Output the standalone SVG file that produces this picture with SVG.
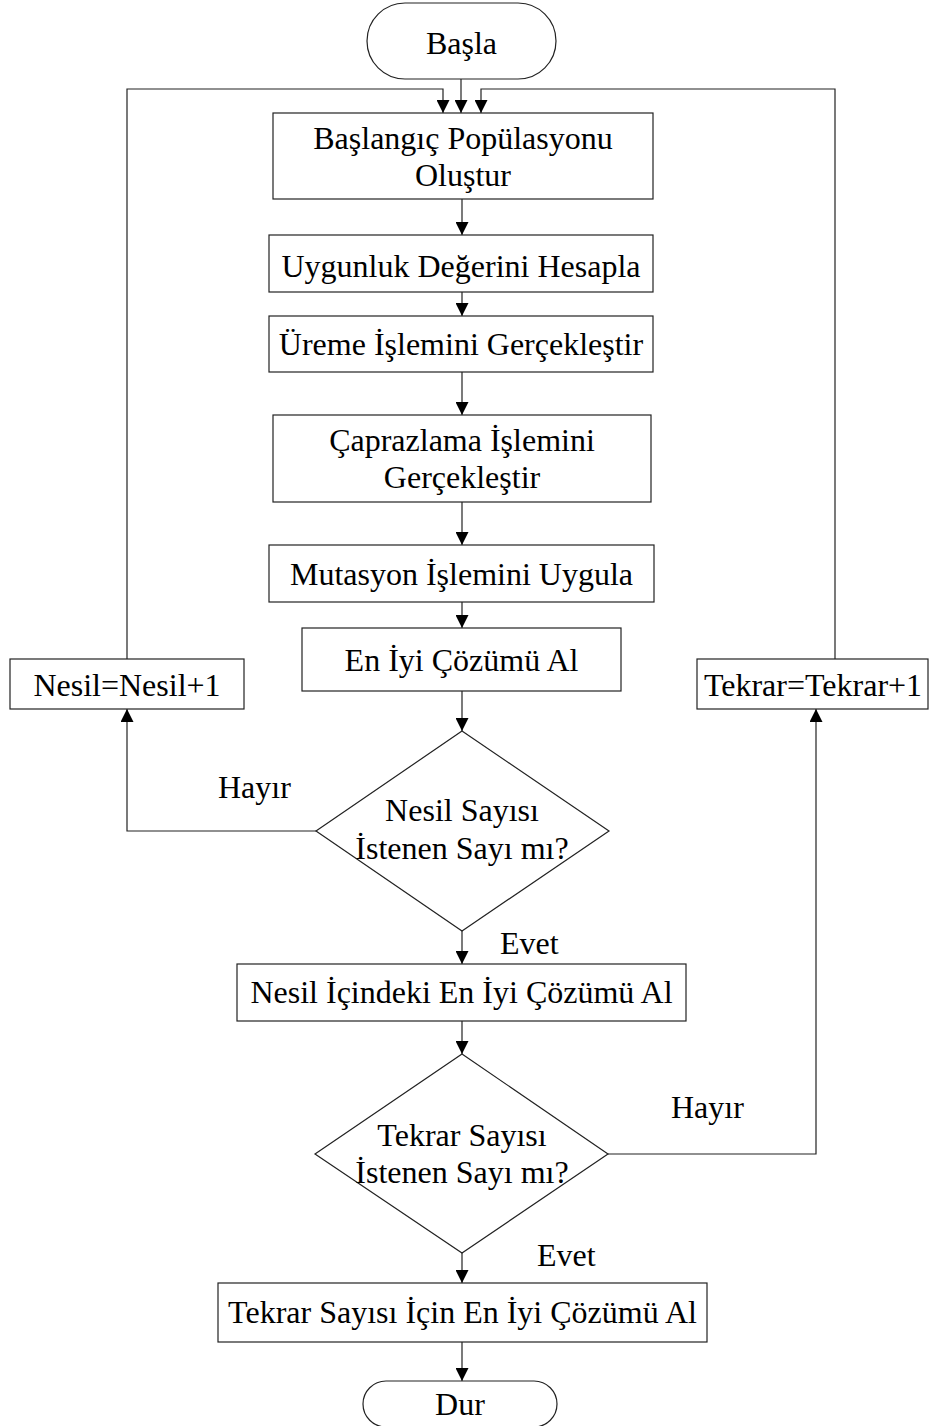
<svg xmlns="http://www.w3.org/2000/svg" width="929" height="1426" viewBox="0 0 929 1426">
<defs>
<marker id="ah" markerUnits="userSpaceOnUse" markerWidth="14" markerHeight="13" refX="13" refY="6.5" orient="auto">
<path d="M0,0 L13,6.5 L0,13 z" fill="#000"/>
</marker>
<style>
.n{fill:#fff;stroke:#222;stroke-width:1.2}
.t{font-family:"Liberation Serif","Times New Roman",serif;font-size:32px;fill:#000;text-anchor:middle}
.l{font-family:"Liberation Serif","Times New Roman",serif;font-size:32px;fill:#000}
.c{fill:none;stroke:#222;stroke-width:1.2}
.a{marker-end:url(#ah)}
</style>
</defs>
<rect width="929" height="1426" fill="#fff"/>
<g id="connectors">
<path class="c a" d="M461,79 V113"/>
<path class="c a" d="M127,659 V89 H443 V113"/>
<path class="c a" d="M835,659 V89 H481 V113"/>
<path class="c a" d="M462,199 V235"/>
<path class="c a" d="M462,292 V316"/>
<path class="c a" d="M462,372 V415"/>
<path class="c a" d="M462,502 V545"/>
<path class="c a" d="M462,602 V628"/>
<path class="c a" d="M462,691 V731"/>
<path class="c a" d="M316,831 H127 V709"/>
<path class="c a" d="M462,931 V964"/>
<path class="c a" d="M462,1021 V1054"/>
<path class="c a" d="M608,1154 H816 V709"/>
<path class="c a" d="M462,1253 V1283"/>
<path class="c a" d="M462,1342 V1381"/>
<text class="l" x="218" y="798">Hayır</text>
<text class="l" x="500" y="954">Evet</text>
<text class="l" x="671" y="1118">Hayır</text>
<text class="l" x="537" y="1266">Evet</text>
</g>
<g id="start">
<rect class="n" x="367" y="3" width="189" height="76" rx="38" ry="38"/>
<text class="t" x="461.5" y="54">Başla</text>
</g>
<g id="init">
<rect class="n" x="273" y="113" width="380" height="86"/>
<text class="t" x="463" y="149">Başlangıç Popülasyonu</text>
<text class="t" x="463" y="186">Oluştur</text>
</g>
<g id="fitness">
<rect class="n" x="269" y="235" width="384" height="57"/>
<text class="t" x="461" y="277">Uygunluk Değerini Hesapla</text>
</g>
<g id="reproduction">
<rect class="n" x="269" y="316" width="384" height="56"/>
<text class="t" x="461" y="355">Üreme İşlemini Gerçekleştir</text>
</g>
<g id="crossover">
<rect class="n" x="273" y="415" width="378" height="87"/>
<text class="t" x="462" y="451">Çaprazlama İşlemini</text>
<text class="t" x="462" y="488">Gerçekleştir</text>
</g>
<g id="mutation">
<rect class="n" x="269" y="545" width="385" height="57"/>
<text class="t" x="461.5" y="585">Mutasyon İşlemini Uygula</text>
</g>
<g id="best">
<rect class="n" x="302" y="628" width="319" height="63"/>
<text class="t" x="461.5" y="671">En İyi Çözümü Al</text>
</g>
<g id="nesilInc">
<rect class="n" x="10" y="659" width="234" height="50"/>
<text class="t" x="127" y="696">Nesil=Nesil+1</text>
</g>
<g id="tekrarInc">
<rect class="n" x="697" y="659" width="231" height="50"/>
<text class="t" x="813" y="696">Tekrar=Tekrar+1</text>
</g>
<g id="decision1">
<polygon class="n" points="462,731 609,831 462,931 316,831"/>
<text class="t" x="462" y="821">Nesil Sayısı</text>
<text class="t" x="462" y="859">İstenen Sayı mı?</text>
</g>
<g id="genBest">
<rect class="n" x="237" y="964" width="449" height="57"/>
<text class="t" x="461.5" y="1003">Nesil İçindeki En İyi Çözümü Al</text>
</g>
<g id="decision2">
<polygon class="n" points="462,1054 608,1154 462,1253 315,1154"/>
<text class="t" x="462" y="1146">Tekrar Sayısı</text>
<text class="t" x="462" y="1183">İstenen Sayı mı?</text>
</g>
<g id="repBest">
<rect class="n" x="218" y="1283" width="489" height="59"/>
<text class="t" x="462.5" y="1323">Tekrar Sayısı İçin En İyi Çözümü Al</text>
</g>
<g id="stop">
<rect class="n" x="363" y="1381" width="194" height="46" rx="23" ry="23"/>
<text class="t" x="460" y="1415">Dur</text>
</g>
</svg>
